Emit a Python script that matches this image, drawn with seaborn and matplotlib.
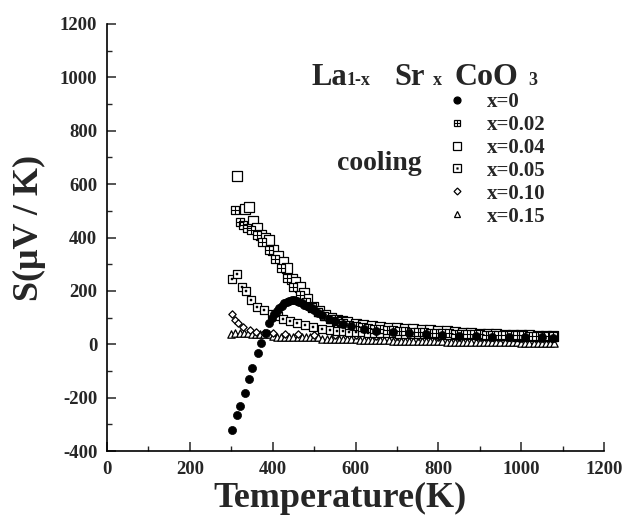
import matplotlib
matplotlib.use("Agg")
import matplotlib.pyplot as plt
from matplotlib.ticker import MultipleLocator
from matplotlib.lines import Line2D
from matplotlib.legend_handler import HandlerTuple
import seaborn as sns
import pandas as pd

# ---------------- data ----------------
T_x000 = [301, 313, 322, 334, 343, 351, 364, 372, 383, 392, 398, 404, 410, 416, 422, 428,
          434, 440, 446, 452, 458, 464, 470, 476, 482, 488, 494, 500, 510, 520, 535, 550,
          570, 590, 620, 650, 690, 730, 770, 810, 850, 890, 930, 970, 1010, 1050, 1078]
S_x000 = [-320, -266, -233, -181, -131, -88, -32, 4, 44, 81, 100, 115, 125, 135, 145, 153,
          159, 163, 165, 164, 161, 157, 153, 148, 143, 138, 134, 128, 118, 108, 96, 86,
          75, 67, 58, 51, 45, 41, 37, 34, 32, 30, 29, 28, 27, 26, 25]

T_x002 = [309, 320, 328, 337, 347, 361, 375, 390, 405, 420, 435, 450, 465, 480, 495, 510,
          525, 540, 555, 570, 585, 600, 615, 630, 645, 660, 675, 690, 705, 720, 735, 750,
          765, 780, 795, 810, 825, 840, 855, 870, 885, 900, 915, 930, 945, 960, 975, 990,
          1005, 1020, 1035, 1050, 1065, 1078]
S_x002 = [502, 459, 446, 434, 427, 409, 385, 355, 320, 285, 250, 215, 185, 160, 138, 120,
          106, 95, 86, 79, 73, 68, 64, 61, 58, 56, 54, 52, 50, 48, 47, 46,
          45, 44, 43, 42, 41, 40, 39, 38, 37, 37, 36, 35, 35, 34, 34, 33,
          33, 32, 32, 31, 31, 30]

T_x004 = [313, 333, 343, 352, 362, 371, 381, 391, 402, 414, 424, 434, 446, 455, 465, 475,
          484, 498, 512, 526, 540, 555, 567, 579, 600, 619, 640, 660, 680, 700, 720, 740,
          760, 780, 800, 820, 840, 860, 880, 900, 920, 940, 960, 980, 1000, 1020, 1040,
          1060, 1077]
S_x004 = [630, 506, 515, 461, 435, 409, 400, 390, 355, 330, 307, 284, 246, 232, 215, 193,
          171, 140, 123, 109, 98, 90, 87, 84, 77, 71, 67, 64, 62, 60, 58, 56,
          54, 52, 50, 48, 46, 44, 42, 40, 38, 37, 36, 35, 34, 33, 32,
          31, 30]

T_x005 = [301, 313, 325, 336, 347, 361, 378, 398, 412, 426, 442, 458, 478, 498, 518, 538,
          555, 570, 585, 600, 615, 630, 645, 660, 675, 690, 705, 720, 735, 750, 765, 780,
          795, 810, 825, 840, 855, 870, 885, 900, 915, 930, 945, 960, 975, 990, 1005,
          1020, 1035, 1050, 1065, 1078]
S_x005 = [246, 265, 215, 199, 165, 140, 128, 115, 105, 96, 86, 78, 71, 65, 58, 52,
          50, 48, 47, 46, 45, 44, 43, 42, 42, 41, 40, 40, 39, 38, 38, 37,
          37, 36, 35, 35, 34, 34, 33, 33, 32, 31, 31, 30, 30, 29, 29,
          28, 28, 27, 27, 26]

T_x010 = [301, 309, 317, 329, 345, 360, 380, 400, 430, 460, 500, 550, 600, 650, 700, 750,
          800, 850, 900, 950, 1000, 1050, 1078]
S_x010 = [115, 90, 78, 65, 52, 47, 44, 42, 40, 38, 36, 34, 33, 32, 31, 30,
          29, 28, 27, 26, 25, 25, 24]

T_x015 = [300, 310, 320, 330, 340, 350, 360, 370, 380, 390, 400, 410, 420, 430, 440, 450,
          460, 470, 480, 490, 500, 510, 520, 530, 540, 550, 560, 570, 580, 590, 600, 610,
          620, 630, 640, 650, 660, 670, 680, 690, 700, 710, 720, 730, 740, 750, 760, 770,
          780, 790, 800, 810, 820, 830, 840, 850, 860, 870, 880, 890, 900, 910, 920, 930,
          940, 950, 960, 970, 980, 990, 1000, 1010, 1020, 1030, 1040, 1050, 1060, 1070, 1080]
S_x015 = [40, 42, 44, 43, 41, 40, 39, 38, 38, 37, 30, 29, 28, 28, 28, 27,
          27, 27, 27, 26, 26, 26, 19, 19, 19, 18, 18, 18, 18, 18, 18, 17,
          17, 17, 17, 17, 17, 17, 16, 12, 12, 12, 12, 12, 12, 11, 11, 11,
          11, 11, 11, 11, 7, 7, 7, 7, 7, 7, 7, 7, 7, 7, 7, 7,
          7, 7, 7, 7, 7, 7, 4, 4, 4, 4, 4, 3, 3, 3, 3]

legend_labels = ["x=0", "x=0.02", "x=0.04", "x=0.05", "x=0.10", "x=0.15"]
x_ticks = [0, 200, 400, 600, 800, 1000, 1200]
y_ticks = [-400, -200, 0, 200, 400, 600, 800, 1000, 1200]

# ---------------- style ----------------
sns.set_theme(style="ticks")
plt.rcParams["font.family"] = ["Liberation Serif", "DejaVu Serif"]
plt.rcParams["font.weight"] = "bold"
plt.rcParams["axes.unicode_minus"] = False

fig = plt.figure(figsize=(6.32, 5.18), dpi=100)
ax = fig.add_axes([107 / 632, 1 - 451 / 518, 497 / 632, 427 / 518])

def df(T, S):
    return pd.DataFrame({"T": T, "S": S})

ek = dict(edgecolor="black", linewidth=0.9, legend=False, ax=ax)
# x=0.15 triangles
sns.scatterplot(data=df(T_x015, S_x015), x="T", y="S", marker="^", s=28, color="white", **ek)
# x=0.10 diamonds
sns.scatterplot(data=df(T_x010, S_x010), x="T", y="S", marker="D", s=14, color="white", **ek)
# x=0.05 squares with dot
sns.scatterplot(data=df(T_x005, S_x005), x="T", y="S", marker="s", s=34, color="white", **ek)
sns.scatterplot(data=df(T_x005, S_x005), x="T", y="S", marker="s", s=2, color="black",
                edgecolor="black", linewidth=0.3, legend=False, ax=ax)
# x=0.04 big open squares
sns.scatterplot(data=df(T_x004, S_x004), x="T", y="S", marker="s", s=55, color="white", **ek)
# x=0.02 squares with cross
sns.scatterplot(data=df(T_x002, S_x002), x="T", y="S", marker="s", s=26, color="white", **ek)
sns.scatterplot(data=df(T_x002, S_x002), x="T", y="S", marker="+", s=26, color="black",
                linewidth=0.8, legend=False, ax=ax)
# x=0 filled circles
sns.scatterplot(data=df(T_x000, S_x000), x="T", y="S", marker="o", s=34, color="black",
                edgecolor="black", linewidth=0.5, legend=False, ax=ax)

ax.set_xlim(0, 1200)
ax.set_ylim(-400, 1200)
ax.set_xticks(x_ticks)
ax.set_yticks(y_ticks)
ax.xaxis.set_minor_locator(MultipleLocator(100))
ax.yaxis.set_minor_locator(MultipleLocator(100))
ax.tick_params(which="major", direction="in", length=6.5, width=1.1, labelsize=13.5, pad=7)
ax.tick_params(which="minor", direction="in", length=3.5, width=1.0)
for lab in ax.get_xticklabels() + ax.get_yticklabels():
    lab.set_fontweight("bold")
for side in ["top", "right"]:
    ax.spines[side].set_visible(False)
for side in ["left", "bottom"]:
    ax.spines[side].set_linewidth(1.2)
    ax.spines[side].set_color("black")

ax.set_xlabel("Temperature(K)", fontsize=26, fontweight="bold")
ax.set_ylabel("S(\u03bcV / K)", fontsize=26, fontweight="bold")
ax.xaxis.set_label_coords((340 - 107) / 497, (451 - 482) / 427)
ax.yaxis.set_label_coords((46 - 107) / 497, (451 - 228) / 427)

# title with subscripts
base_y = 1 - 85 / 518
pieces = [("La", 311, 22), ("1-x", 347, 13), ("Sr", 394, 22), ("x", 433, 13),
          ("CoO", 455, 23), ("3", 528, 13)]
for txt, px, fs in pieces:
    fig.text(px / 632, base_y, txt, fontsize=fs, fontweight="bold", va="baseline", ha="left")

fig.text(337 / 632, 1 - 164 / 518, "cooling", fontsize=20, fontweight="bold", va="center", ha="left")

# legend
mk = dict(linestyle="none", markeredgecolor="black", markeredgewidth=0.9)
h0 = Line2D([], [], marker="o", markersize=5, markerfacecolor="black", **mk)
h1 = (Line2D([], [], marker="s", markersize=5, markerfacecolor="white", **mk),
      Line2D([], [], marker="+", markersize=5, color="black", linestyle="none", markeredgewidth=0.8))
h2 = Line2D([], [], marker="s", markersize=5.5, markerfacecolor="white", **mk)
h3 = (Line2D([], [], marker="s", markersize=5.5, markerfacecolor="white", **mk),
      Line2D([], [], marker="s", markersize=1.2, markerfacecolor="black", linestyle="none",
             markeredgecolor="black", markeredgewidth=0.3))
h4 = Line2D([], [], marker="D", markersize=3.5, markerfacecolor="white", **mk)
h5 = Line2D([], [], marker="^", markersize=5, markerfacecolor="white", **mk)
leg = ax.legend([h0, h1, h2, h3, h4, h5], legend_labels,
                handler_map={tuple: HandlerTuple(ndivide=1)},
                loc="upper left", bbox_to_anchor=(449 / 632, 1 - 92 / 518),
                bbox_transform=fig.transFigure, frameon=False, borderpad=0,
                borderaxespad=0, handlelength=0.8, handletextpad=1.0,
                labelspacing=0.14, prop={"family": "Liberation Serif", "weight": "bold", "size": 15})

fig.savefig("out.png", dpi=100)
